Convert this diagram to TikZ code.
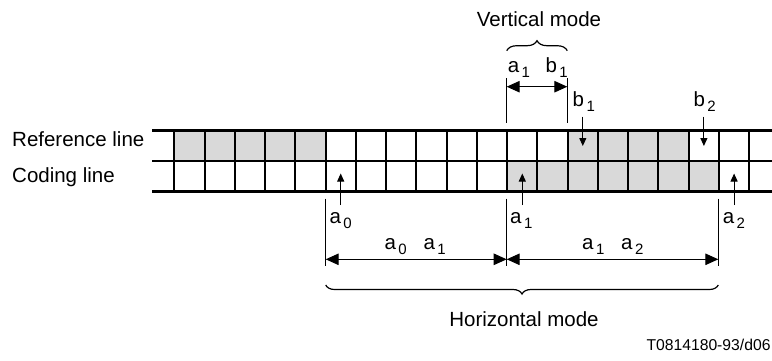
\documentclass[tikz,border=0pt]{standalone}
\usepackage{fontspec}
\setmainfont{Liberation Sans}
\usetikzlibrary{arrows.meta,decorations.pathreplacing}
\definecolor{cellgray}{HTML}{D9D9D9}
\newcommand{\mainsz}{\fontsize{20.5}{24}\selectfont}
\newcommand{\subsz}{\fontsize{15}{18}\selectfont}
\newcommand{\lb}[2]{#1\kern2.5pt\raisebox{-5pt}{\subsz #2}}
\begin{document}
\begin{tikzpicture}[x=1pt,y=-1pt,
  txt/.style={inner sep=0pt, font=\mainsz, anchor=base west},
  gridline/.style={line width=2.4pt},
  cellline/.style={line width=2pt},
  thinline/.style={line width=1pt},
  smallarrow/.style={line width=1pt, -{Triangle[width=7pt,length=8pt]}},
  dimarrow/.style={line width=1pt, {Triangle[width=11.5pt,length=13pt]}-{Triangle[width=11.5pt,length=13pt]}},
  bracestyle/.style={line width=1.2pt, decorate, decoration={brace, amplitude=#1}},
]
\useasboundingbox (0,0) rectangle (772,360);
\fill[white] (0,0) rectangle (772,360);
\def\cw{30.26}
% gray cells
\foreach \i in {0,1,2,3,4,13,14,15,16}
  \fill[cellgray] ({174.3+\i*\cw},130.5) rectangle ({174.3+(\i+1)*\cw},161);
\foreach \i in {11,12,13,14,15,16,17}
  \fill[cellgray] ({174.3+\i*\cw},161) rectangle ({174.3+(\i+1)*\cw},191.5);
% cell dividers
\foreach \i in {0,...,19}
  \draw[cellline] ({174.3+\i*\cw},130.5) -- ({174.3+\i*\cw},191.5);
% horizontal lines
\draw[gridline] (152,130.5) -- (772,130.5);
\draw[gridline] (152,161) -- (772,161);
\draw[gridline] (152,191.5) -- (772,191.5);

% row labels
\node[txt] (reflab) at (12,146) {Reference line};
\node[txt] (codlab) at (12,182) {Coding line};

% small arrows in cells
\coordinate (a0s) at (340.7,205);   \coordinate (a0t) at (340.7,173.5);
\coordinate (a1s) at (522.3,205);   \coordinate (a1t) at (522.3,173.5);
\coordinate (a2s) at (734.1,205);   \coordinate (a2t) at (734.1,173.5);
\coordinate (b1s) at (582.8,116.5); \coordinate (b1t) at (582.8,146);
\coordinate (b2s) at (703.9,116.5); \coordinate (b2t) at (703.9,146);
\draw[smallarrow] (a0s) -- (a0t);
\draw[smallarrow] (a1s) -- (a1t);
\draw[smallarrow] (a2s) -- (a2t);
\draw[smallarrow] (b1s) -- (b1t);
\draw[smallarrow] (b2s) -- (b2t);

% top dimension
\coordinate (va1top) at (506.7,78.3); \coordinate (va1bot) at (506.7,122.7);
\coordinate (vb1top) at (567.3,78.3); \coordinate (vb1bot) at (567.3,122.7);
\draw[thinline] (va1top) -- (va1bot);
\draw[thinline] (vb1top) -- (vb1bot);
\coordinate (da1) at (506.7,86.7); \coordinate (db1) at (567.3,86.7);
\draw[dimarrow] (da1) -- (db1);
\node[txt] (ta1) at (507.6,72) {\lb{a}{1}};
\node[txt] (tb1) at (545.3,72) {\lb{b}{1}};
\node[txt] (lb1) at (572.5,106.7) {\lb{b}{1}};
\node[txt] (lb2) at (693.3,106.7) {\lb{b}{2}};

% top brace and label
\coordinate (brL) at (506.7,50.7); \coordinate (brR) at (567.3,50.7);
\draw[bracestyle=10pt] (brL) -- (brR);
\node[txt, anchor=base] (vm) at (539,26.7) {Vertical mode};

% bottom extension lines
\coordinate (e0t) at (325.7,198.5); \coordinate (e0b) at (325.7,266);
\coordinate (e1t) at (506.7,198.5); \coordinate (e1b) at (506.7,266);
\coordinate (e2t) at (718.3,198.5); \coordinate (e2b) at (718.3,266);
\draw[thinline] (e0t) -- (e0b);
\draw[thinline] (e1t) -- (e1b);
\draw[thinline] (e2t) -- (e2b);
\node[txt] (la0) at (329.3,223.3) {\lb{a}{0}};
\node[txt] (la1) at (510,223.3) {\lb{a}{1}};
\node[txt] (la2) at (722.6,223.3) {\lb{a}{2}};

% bottom dimensions
\coordinate (d0) at (325.7,259.3);
\coordinate (d1) at (506.7,259.3);
\coordinate (d2) at (718.3,259.3);
\draw[dimarrow] (d0) -- (d1);
\draw[dimarrow] (d1) -- (d2);
\node[txt] (da0a) at (384.3,249.3) {\lb{a}{0}};
\node[txt] (da1a) at (423.3,249.3) {\lb{a}{1}};
\node[txt] (da1b) at (582,249.3) {\lb{a}{1}};
\node[txt] (da2b) at (621,249.3) {\lb{a}{2}};

% bottom brace and label
\coordinate (bbR) at (718.3,285); \coordinate (bbL) at (325.7,285);
\draw[bracestyle=9pt] (bbR) -- (bbL);
\node[txt, anchor=base] (hm) at (524,326.7) {Horizontal mode};

% figure id
\node[txt, font=\fontsize{15.7}{18}\selectfont, anchor=base east] (tid) at (770.7,350) {T0814180-93/d06};
\end{tikzpicture}
\end{document}
